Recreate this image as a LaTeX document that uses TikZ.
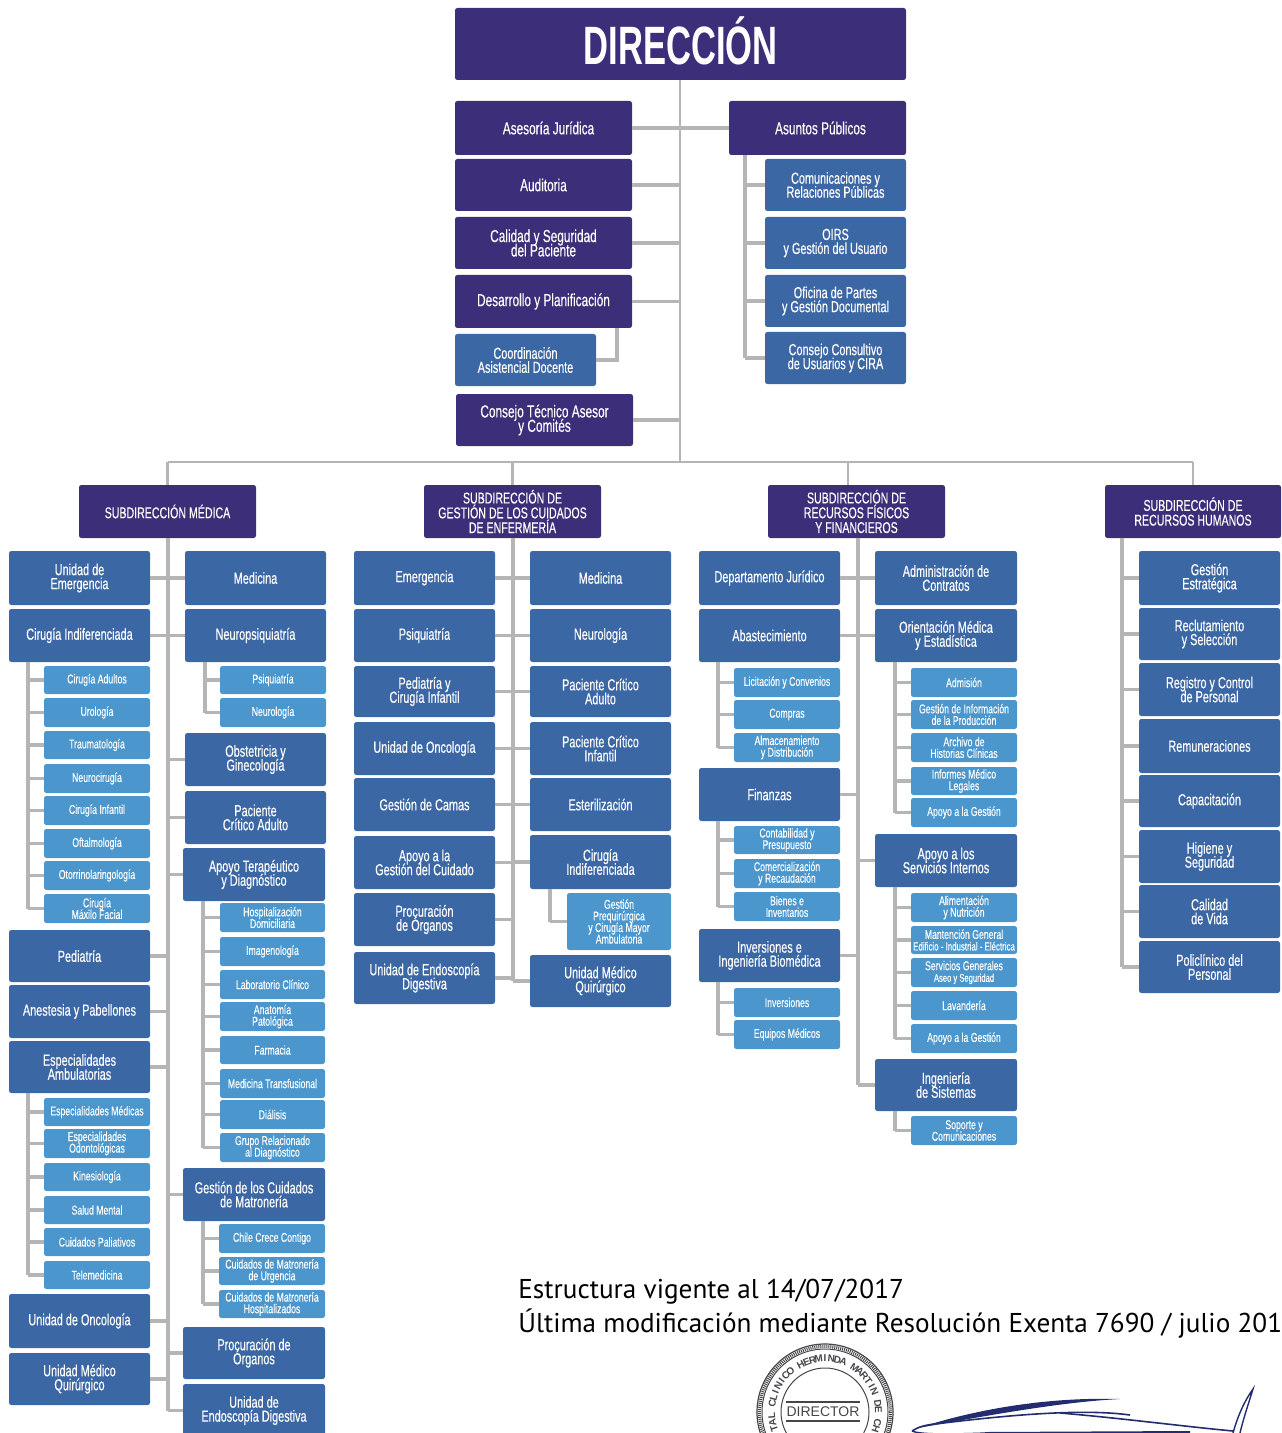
\documentclass[tikz,border=0pt]{standalone}
\usepackage{fontspec}
\setmainfont{Liberation Sans}
\newfontfamily\dinf[FakeStretch=0.68,FakeBold=0.25]{Liberation Sans}
\newfontfamily\dirf[FakeStretch=0.64]{Liberation Sans}
\newfontfamily\footf{PT Sans}
\definecolor{purp}{RGB}{60,46,120}
\definecolor{midb}{RGB}{60,103,165}
\definecolor{litb}{RGB}{74,150,205}
\definecolor{lin}{RGB}{181,181,181}
\definecolor{sig}{RGB}{34,44,110}
\definecolor{stamp}{RGB}{70,70,74}
\tikzset{
  boxbase/.style={rounded corners=1.2pt,inner sep=0pt,align=center,text=white,execute at begin node={\lineskiplimit=-6pt\relax}},
  dirbox/.style={boxbase,fill=purp,font=\dirf\bfseries\fontsize{27}{27}\selectfont},
  subbox/.style={boxbase,fill=purp,font=\dinf\fontsize{7.8}{7.4}\selectfont},
  purbox/.style={boxbase,fill=purp,font=\dinf\fontsize{8.7}{7.2}\selectfont},
  midbox/.style={boxbase,fill=midb,font=\dinf\fontsize{8}{7}\selectfont},
  litbox/.style={boxbase,fill=litb,font=\dinf\fontsize{6.4}{5.8}\selectfont},
  conn/.style={draw=lin,line width=1.7pt},
  thinconn/.style={draw=lin,line width=1.3pt},
  foot/.style={font=\footf\fontsize{13.6}{17}\selectfont,anchor=base west,inner sep=0pt,text=black},
  stamptxt/.style={font=\bfseries\fontsize{5}{5}\selectfont,text=stamp,inner sep=0pt},
}
\newcommand{\bx}[7]{\node[#2,minimum width=#5*0.5pt-#3*0.5pt,minimum height=#6*0.5pt-#4*0.5pt] (#1) at ({(#3+#5)/2},{(#4+#6)/2}) {#7};}
\newcommand{\tieL}[2]{\draw[conn] (#2.east) -- (#2.east -| #1);}
\newcommand{\tieR}[2]{\draw[conn] (#2.west) -- (#2.west -| #1);}
\newcommand{\spn}[3]{\draw[conn] (#2.south -| #1) -- (#3.west -| #1);}
\begin{document}
\begin{tikzpicture}[x=0.5pt,y=-0.5pt]
\useasboundingbox (0,0) rectangle (1281,1433);
\clip (0,0) rectangle (1281,1433);
% ---------- top
\bx{dir}{dirbox}{455}{8}{906}{80}{\raisebox{3pt}{DIRECCIÓN}}
\bx{ases}{purbox}{455}{101}{632}{155}{\hspace*{5pt}Asesoría Jurídica}
\bx{audi}{purbox}{455}{159}{632}{211}{Auditoria}
\bx{cali}{purbox}{455}{217}{632}{269}{Calidad y Seguridad\\del Paciente}
\bx{desa}{purbox}{455}{275}{632}{328}{Desarrollo y Planificación}
\bx{coor}{midbox}{455}{334}{596}{386}{Coordinación\\Asistencial Docente}
\bx{cons}{purbox}{456}{394}{633}{446}{Consejo Técnico Asesor\\y Comités}
\bx{asun}{purbox}{729}{101}{906}{155}{\hspace*{3pt}Asuntos Públicos}
\bx{comu}{midbox}{765}{159}{906}{211}{Comunicaciones y\\Relaciones Públicas}
\bx{oirs}{midbox}{765}{217}{906}{269}{OIRS\\y Gestión del Usuario}
\bx{ofic}{midbox}{765}{275}{906}{327}{Oficina de Partes\\y Gestión Documental}
\bx{csjo}{midbox}{765}{332}{906}{384}{Consejo Consultivo\\de Usuarios y CIRA}
% ---------- subdirecciones
\bx{subM}{subbox}{79}{485}{256}{538}{SUBDIRECCIÓN MÉDICA}
\bx{subE}{subbox}{424}{485}{601}{538}{SUBDIRECCIÓN DE\\GESTIÓN DE LOS CUIDADOS\\DE ENFERMERÍA}
\bx{subR}{subbox}{768}{485}{945}{538}{SUBDIRECCIÓN DE\\RECURSOS FÍSICOS\\Y FINANCIEROS}
\bx{subH}{subbox}{1105}{485}{1281}{538}{SUBDIRECCIÓN DE\\RECURSOS HUMANOS}
% ---------- medica izquierda
\bx{mA}{midbox}{9}{551}{150}{605}{Unidad de\\Emergencia}
\bx{mB}{midbox}{9}{609}{150}{662}{Cirugía Indiferenciada}
\bx{mB1}{litbox}{44}{666}{150}{694}{Cirugía Adultos}
\bx{mB2}{litbox}{44}{698}{150}{727}{Urología}
\bx{mB3}{litbox}{44}{731}{150}{759}{Traumatología}
\bx{mB4}{litbox}{44}{764}{150}{793}{Neurocirugía}
\bx{mB5}{litbox}{44}{796}{150}{825}{Cirugía Infantil}
\bx{mB6}{litbox}{44}{829}{150}{858}{Oftalmología}
\bx{mB7}{litbox}{44}{861}{150}{890}{Otorrinolaringología}
\bx{mB8}{litbox}{44}{894}{150}{923}{Cirugía\\Máxilo Facial}
\bx{mC}{midbox}{9}{930}{150}{982}{Pediatría}
\bx{mD}{midbox}{9}{985}{150}{1038}{Anestesia y Pabellones}
\bx{mE}{midbox}{9}{1041}{150}{1093}{Especialidades\\Ambulatorias}
\bx{mE1}{litbox}{44}{1098}{150}{1126}{Especialidades Médicas}
\bx{mE2}{litbox}{44}{1129}{150}{1158}{Especialidades\\Odontológicas}
\bx{mE3}{litbox}{44}{1163}{150}{1191}{Kinesiología}
\bx{mE4}{litbox}{44}{1196}{150}{1224}{Salud Mental}
\bx{mE5}{litbox}{44}{1228}{150}{1256}{Cuidados Paliativos}
\bx{mE6}{litbox}{44}{1261}{150}{1289}{Telemedicina}
\bx{mF}{midbox}{9}{1294}{150}{1348}{Unidad de Oncología}
\bx{mG}{midbox}{9}{1353}{150}{1405}{Unidad Médico\\Quirúrgico}
% ---------- medica derecha
\bx{nA}{midbox}{185}{551}{326}{605}{Medicina}
\bx{nB}{midbox}{185}{609}{326}{662}{Neuropsiquiatría}
\bx{nB1}{litbox}{220}{666}{326}{694}{Psiquiatría}
\bx{nB2}{litbox}{220}{698}{326}{727}{Neurología}
\bx{nC}{midbox}{185}{733}{326}{786}{Obstetricia y\\Ginecología}
\bx{nD}{midbox}{185}{791}{326}{844}{Paciente\\Crítico Adulto}
\bx{nE}{midbox}{183}{848}{325}{901}{Apoyo Terapéutico\\y Diagnóstico}
\bx{nE1}{litbox}{220}{903}{325}{932}{Hospitalización\\Domiciliaria}
\bx{nE2}{litbox}{220}{937}{325}{966}{Imagenología}
\bx{nE3}{litbox}{220}{970}{325}{999}{Laboratorio Clínico}
\bx{nE4}{litbox}{220}{1002}{325}{1031}{Anatomía\\Patológica}
\bx{nE5}{litbox}{220}{1036}{325}{1064}{Farmacia}
\bx{nE6}{litbox}{220}{1069}{325}{1098}{Medicina Transfusional}
\bx{nE7}{litbox}{220}{1100}{325}{1129}{Diálisis}
\bx{nE8}{litbox}{220}{1133}{325}{1162}{Grupo Relacionado\\al Diagnóstico}
\bx{nF}{midbox}{183}{1168}{325}{1221}{Gestión de los Cuidados\\de Matronería}
\bx{nF1}{litbox}{219}{1224}{325}{1253}{Chile Crece Contigo}
\bx{nF2}{litbox}{219}{1257}{325}{1285}{Cuidados de Matronería\\de Urgencia}
\bx{nF3}{litbox}{219}{1290}{325}{1318}{Cuidados de Matronería\\Hospitalizados}
\bx{nG}{midbox}{183}{1327}{325}{1379}{Procuración de\\Órganos}
\bx{nH}{midbox}{183}{1384}{325}{1437}{Unidad de\\Endoscopía Digestiva}
% ---------- enfermeria
\bx{eA}{midbox}{354}{551}{495}{605}{Emergencia}
\bx{eB}{midbox}{354}{609}{495}{662}{Psiquiatría}
\bx{eC}{midbox}{354}{666}{495}{717}{Pediatría y\\Cirugía Infantil}
\bx{eD}{midbox}{354}{722}{495}{775}{Unidad de Oncología}
\bx{eE}{midbox}{354}{778}{495}{831}{Gestión de Camas}
\bx{eF}{midbox}{354}{836}{495}{889}{Apoyo a la\\Gestión del Cuidado}
\bx{eG}{midbox}{354}{893}{495}{946}{Procuración\\de Órganos}
\bx{eH}{midbox}{354}{952}{495}{1004}{Unidad de Endoscopía\\Digestiva}
\bx{fA}{midbox}{530}{551}{671}{605}{Medicina}
\bx{fB}{midbox}{530}{609}{671}{662}{Neurología}
\bx{fC}{midbox}{530}{666}{671}{717}{Paciente Crítico\\Adulto}
\bx{fD}{midbox}{530}{722}{671}{775}{Paciente Crítico\\Infantil}
\bx{fE}{midbox}{530}{778}{671}{831}{Esterilización}
\bx{fF}{midbox}{530}{835}{671}{889}{Cirugía\\Indiferenciada}
\bx{fF1}{litbox}{567}{893}{671}{950}{Gestión\\Prequirúrgica\\y Cirugía Mayor\\Ambulatoria}
\bx{fG}{midbox}{530}{955}{671}{1007}{Unidad Médico\\Quirúrgico}
% ---------- recursos fisicos
\bx{rA}{midbox}{699}{551}{840}{605}{Departamento Jurídico}
\bx{rB}{midbox}{699}{609}{840}{662}{Abastecimiento}
\bx{rB1}{litbox}{734}{668}{840}{697}{Licitación y Convenios}
\bx{rB2}{litbox}{734}{700}{840}{729}{Compras}
\bx{rB3}{litbox}{734}{733}{840}{762}{Almacenamiento\\y Distribución}
\bx{rC}{midbox}{699}{768}{840}{821}{Finanzas}
\bx{rC1}{litbox}{734}{826}{840}{854}{Contabilidad y\\Presupuesto}
\bx{rC2}{litbox}{734}{859}{840}{888}{Comercialización\\y Recaudación}
\bx{rC3}{litbox}{734}{892}{840}{921}{Bienes e\\Inventarios}
\bx{rD}{midbox}{699}{929}{840}{982}{Inversiones e\\Ingeniería Biomédica}
\bx{rD1}{litbox}{734}{988}{840}{1017}{Inversiones}
\bx{rD2}{litbox}{734}{1020}{840}{1049}{Equipos Médicos}
\bx{sA}{midbox}{875}{551}{1017}{605}{Administración de\\Contratos}
\bx{sB}{midbox}{875}{609}{1017}{662}{Orientación Médica\\y Estadística}
\bx{sB1}{litbox}{911}{668}{1017}{697}{Admisión}
\bx{sB2}{litbox}{911}{700}{1017}{729}{Gestión de Información\\de la Producción}
\bx{sB3}{litbox}{911}{733}{1017}{762}{Archivo de\\Historias Clínicas}
\bx{sB4}{litbox}{911}{767}{1017}{795}{Informes Médico\\Legales}
\bx{sB5}{litbox}{911}{798}{1017}{827}{Apoyo a la Gestión}
\bx{sC}{midbox}{875}{834}{1017}{887}{Apoyo a los\\Servicios Internos}
\bx{sC1}{litbox}{911}{893}{1017}{922}{Alimentación\\y Nutrición}
\bx{sC2}{litbox}{911}{926}{1017}{954}{Mantención General\\{\fontsize{5.8}{5.6}\selectfont Edificio - Industrial - Eléctrica}}
\bx{sC3}{litbox}{911}{958}{1017}{987}{Servicios Generales\\{\fontsize{5.6}{5.6}\selectfont Aseo y Seguridad}}
\bx{sC4}{litbox}{911}{991}{1017}{1020}{Lavandería}
\bx{sC5}{litbox}{911}{1024}{1017}{1053}{Apoyo a la Gestión}
\bx{sD}{midbox}{875}{1059}{1017}{1111}{Ingeniería\\de Sistemas}
\bx{sD1}{litbox}{911}{1116}{1017}{1145}{Soporte y\\Comunicaciones}
% ---------- recursos humanos
\bx{hA}{midbox}{1139}{551}{1280}{605}{Gestión\\Estratégica}
\bx{hB}{midbox}{1139}{608}{1280}{660}{Reclutamiento\\y Selección}
\bx{hC}{midbox}{1139}{663}{1280}{716}{Registro y Control\\de Personal}
\bx{hD}{midbox}{1139}{719}{1280}{773}{Remuneraciones}
\bx{hE}{midbox}{1139}{775}{1280}{827}{Capacitación}
\bx{hF}{midbox}{1139}{830}{1280}{883}{Higiene y\\Seguridad}
\bx{hG}{midbox}{1139}{885}{1280}{938}{Calidad\\de Vida}
\bx{hH}{midbox}{1139}{941}{1280}{993}{Policlínico del\\Personal}
% ---------- coordinates
\coordinate (bus) at (0,462);
\coordinate (tD) at (680,0);
\coordinate (sAs) at (745,0);
\coordinate (sDs) at (617,0);
\coordinate (tM) at (168,0);
\coordinate (sM1) at (28,0);
\coordinate (sM2) at (205,0);
\coordinate (sM3) at (203,0);
\coordinate (tE) at (513,0);
\coordinate (sE) at (550,0);
\coordinate (tR) at (858,0);
\coordinate (stubR) at (848,0);
\coordinate (sR1) at (718,0);
\coordinate (sR2) at (895,0);
\coordinate (tH) at (1122,0);
% ---------- top connectors
\draw[thinconn] (dir.south -| tD) -- (bus -| tD);
\draw[thinconn] (subM.north |- bus) -- (subH.north |- bus);
\draw[thinconn] (subM.north) -- (subM.north |- bus);
\draw[thinconn] (subE.north) -- (subE.north |- bus);
\draw[thinconn] (subR.north -| stubR) -- (bus -| stubR);
\draw[thinconn] (subH.north) -- (subH.north |- bus);
\draw[conn] (ases.east) -- (asun.west);
\foreach \n in {audi,cali,desa,cons}{\tieL{tD}{\n}}
\draw[conn] (desa.south -| sDs) |- (coor.east);
\spn{sAs}{asun}{csjo}
\foreach \n in {comu,oirs,ofic,csjo}{\tieR{sAs}{\n}}
% ---------- medica connectors
\spn{tM}{subM}{nH}
\foreach \n in {mA,mB,mC,mD,mE,mF,mG}{\tieL{tM}{\n}}
\foreach \n in {nA,nB,nC,nD,nE,nF,nG,nH}{\tieR{tM}{\n}}
\spn{sM1}{mB}{mB8}
\foreach \n in {mB1,mB2,mB3,mB4,mB5,mB6,mB7,mB8}{\tieR{sM1}{\n}}
\spn{sM1}{mE}{mE6}
\foreach \n in {mE1,mE2,mE3,mE4,mE5,mE6}{\tieR{sM1}{\n}}
\spn{sM2}{nB}{nB2}
\foreach \n in {nB1,nB2}{\tieR{sM2}{\n}}
\spn{sM3}{nE}{nE8}
\foreach \n in {nE1,nE2,nE3,nE4,nE5,nE6,nE7,nE8}{\tieR{sM3}{\n}}
\spn{sM3}{nF}{nF3}
\foreach \n in {nF1,nF2,nF3}{\tieR{sM3}{\n}}
% ---------- enfermeria connectors
\spn{tE}{subE}{fG}
\foreach \n in {eA,eB,eC,eD,eE,eF,eG,eH}{\tieL{tE}{\n}}
\foreach \n in {fA,fB,fC,fD,fE,fF,fG}{\tieR{tE}{\n}}
\spn{sE}{fF}{fF1}
\tieR{sE}{fF1}
% ---------- recursos connectors
\spn{tR}{subR}{sD}
\foreach \n in {rA,rB,rC,rD}{\tieL{tR}{\n}}
\foreach \n in {sA,sB,sC,sD}{\tieR{tR}{\n}}
\spn{sR1}{rB}{rB3}
\foreach \n in {rB1,rB2,rB3}{\tieR{sR1}{\n}}
\spn{sR1}{rC}{rC3}
\foreach \n in {rC1,rC2,rC3}{\tieR{sR1}{\n}}
\spn{sR1}{rD}{rD2}
\foreach \n in {rD1,rD2}{\tieR{sR1}{\n}}
\spn{sR2}{sB}{sB5}
\foreach \n in {sB1,sB2,sB3,sB4,sB5}{\tieR{sR2}{\n}}
\spn{sR2}{sC}{sC5}
\foreach \n in {sC1,sC2,sC3,sC4,sC5}{\tieR{sR2}{\n}}
\spn{sR2}{sD}{sD1}
\tieR{sR2}{sD1}
% ---------- rrhh connectors
\spn{tH}{subH}{hH}
\foreach \n in {hA,hB,hC,hD,hE,hF,hG,hH}{\tieR{tH}{\n}}
% ---------- footer
\node[foot] (f1) at (518,1298) {Estructura vigente al 14/07/2017};
\node[foot] (f2) at (518,1332) {Última modificación mediante Resolución Exenta 7690 / julio 201};
% ---------- stamp
\draw[stamp,line width=0.6pt] (825,1412) circle [radius=68];
\draw[stamp,line width=1.6pt,dash pattern=on 0.5pt off 0.5pt] (825,1412) circle [radius=65.5];
\draw[stamp,line width=0.5pt] (825,1412) circle [radius=63];
\draw[stamp,line width=0.5pt] (825,1412) circle [radius=44];
\foreach \c [count=\i from 0] in {T,A,L,{},C,L,I,N,I,C,O,{},H,E,R,M,I,N,D,A,{},M,A,R,T,I,N,{},D,E,{},C,H}{
  \pgfmathsetmacro{\ang}{-108+\i*6.75}
  \node[stamptxt,rotate=-\ang] (st\i) at ({825+53.5*sin(\ang)},{1412-53.5*cos(\ang)}) {\c};
}
\node[font=\fontsize{7}{7}\selectfont,text=stamp,inner sep=0pt] (dirtxt) at (823,1412) {DIRECTOR};
\draw[stamp,line width=0.6pt] (786,1402) -- (860,1402);
\draw[stamp,line width=0.6pt] (786,1421) -- (860,1421);
% ---------- signature
\fill[sig] (918,1428) .. controls (980,1408) and (1050,1397) .. (1120,1399) .. controls (1060,1402) and (985,1416) .. (918,1428) -- cycle;
\draw[sig,line width=0.8pt] (912,1431) .. controls (918,1427) and (925,1425) .. (935,1424) .. controls (1000,1416) and (1080,1408) .. (1130,1415);
\draw[sig,line width=0.8pt] (1060,1413) .. controls (1120,1418) and (1180,1426) .. (1233,1431);
\draw[sig,line width=0.7pt] (912,1431) .. controls (920,1435) and (960,1434) .. (985,1433);
\fill[sig] (985,1432) -- (1190,1431) -- (1190,1434) -- (985,1434) -- cycle;
\draw[sig,line width=0.7pt] (1233,1433) .. controls (1238,1415) and (1245,1400) .. (1253,1389) .. controls (1248,1405) and (1243,1420) .. (1240,1433);
\end{tikzpicture}
\end{document}
